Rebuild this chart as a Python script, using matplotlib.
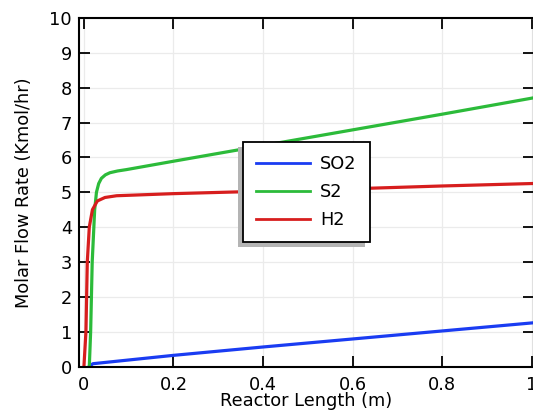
import matplotlib
matplotlib.use("Agg")
import matplotlib.pyplot as plt
from matplotlib.patches import Rectangle

# data
x_so2 = [0.012, 0.02, 0.2, 0.4, 0.6, 0.8, 1.0]
y_so2 = [0.0, 0.08, 0.32, 0.56, 0.79, 1.02, 1.25]

x_s2 = [0.012, 0.015, 0.0185, 0.024, 0.028, 0.033, 0.039, 0.048, 0.058, 0.075, 0.095, 0.2, 0.4, 0.6, 0.8, 1.0]
y_s2 = [0.0, 1.0, 3.0, 4.5, 5.0, 5.25, 5.4, 5.5, 5.56, 5.61, 5.65, 5.89, 6.34, 6.79, 7.24, 7.7]

x_h2 = [0.0, 0.0045, 0.0075, 0.012, 0.019, 0.030, 0.047, 0.073, 0.2, 0.4, 0.6, 0.8, 1.0]
y_h2 = [0.0, 1.0, 3.0, 4.0, 4.5, 4.75, 4.85, 4.9, 4.96, 5.03, 5.10, 5.18, 5.25]

xticks = [0, 0.2, 0.4, 0.6, 0.8, 1]
xticklabels = ["0", "0.2", "0.4", "0.6", "0.8", "1"]
yticks = list(range(0, 11))

W, H = 533, 411
FS = 12.8
fig = plt.figure(figsize=(W / 100, H / 100), dpi=100)
ax = fig.add_axes([79 / W, (H - 366.5) / H, (534 - 79) / W, (366.5 - 18) / H])

ax.plot(x_so2, y_so2, color="#1a3cf2", lw=2.3, label="SO2")
ax.plot(x_s2, y_s2, color="#2cbb3a", lw=2.3, label="S2")
ax.plot(x_h2, y_h2, color="#d71e1e", lw=2.3, label="H2")

ax.set_xlim(-0.011, 1.005)
ax.set_ylim(0, 10)
ax.set_xticks(xticks)
ax.set_xticklabels(xticklabels)
ax.set_yticks(yticks)
ax.grid(True, color="#ebebeb", lw=0.9)
ax.set_axisbelow(True)
ax.tick_params(direction="in", length=8, width=1.3, top=True, right=True,
               labelsize=FS, colors="black")
ax.tick_params(axis="x", pad=6.5)
ax.tick_params(axis="y", pad=5)
for s in ax.spines.values():
    s.set_linewidth(1.5)

ax.set_xlabel("Reactor Length (m)", fontsize=FS, labelpad=-1)
ax.set_ylabel("Molar Flow Rate (Kmol/hr)", fontsize=FS, labelpad=12)

leg = ax.legend(loc="upper left", bbox_to_anchor=((243 - 79) / 455, (366.5 - 142) / 348.5),
                borderaxespad=0, fancybox=False, framealpha=1, edgecolor="black",
                fontsize=FS, handlelength=3.0, handletextpad=0.6, borderpad=0.75,
                labelspacing=0.55)
leg.get_frame().set_linewidth(1.3)
for h in leg.get_lines():
    h.set_linewidth(2.0)

# drop shadow to the lower left of the legend box
fig.canvas.draw()
bb = leg.get_window_extent().transformed(fig.transFigure.inverted())
shadow = Rectangle((bb.x0 - 5 / W, bb.y0 - 5 / H), bb.width, bb.height,
                   transform=fig.transFigure, facecolor="#b4b4b4", edgecolor="none",
                   clip_on=False, zorder=leg.get_zorder() - 0.5)
ax.add_artist(shadow)

fig.savefig("out.png", dpi=100)
